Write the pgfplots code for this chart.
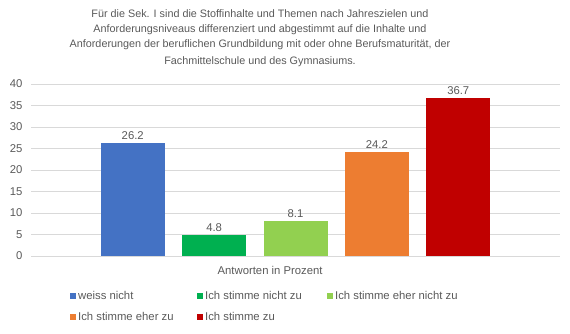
\documentclass[border=0pt]{standalone}
\usepackage{fontspec}
\setmainfont{Liberation Sans}
\usepackage{pgfplots}
\pgfplotsset{compat=1.18}
\definecolor{c1}{HTML}{4472C4}
\definecolor{c2}{HTML}{00B050}
\definecolor{c3}{HTML}{92D050}
\definecolor{c4}{HTML}{ED7D31}
\definecolor{c5}{HTML}{C00000}
\definecolor{txt}{HTML}{595959}
\definecolor{gridc}{HTML}{D9D9D9}
\begin{document}
\begin{tikzpicture}
\path[use as bounding box] (0pt,0pt) rectangle (570pt,333pt);
\node[align=center, text=txt, font=\fontsize{10.8}{15}\selectfont] at (260pt,295pt)
 {Für die Sek. I sind die Stoffinhalte und Themen nach Jahreszielen und\\
  Anforderungsniveaus differenziert und abgestimmt auf die Inhalte und\\
  Anforderungen der beruflichen Grundbildung mit oder ohne Berufsmaturität, der\\[1.5pt]
  Fachmittelschule und des Gymnasiums.};
\begin{axis}[
  at={(31pt,77pt)}, anchor=south west,
  scale only axis, width=529pt, height=172pt,
  xmin=0, xmax=6.5, ymin=0, ymax=40,
  ytick={0,5,...,40}, xtick=\empty,
  axis line style={draw=none},
  ymajorgrids, grid style={draw=gridc, line width=0.8pt},
  major tick length=0pt,
  /pgf/number format/assume math mode=true,
  yticklabel style={text=txt, font=\fontsize{11.3}{13}\selectfont, xshift=-5pt},
  ybar, bar width=64pt,
  nodes near coords,
  nodes near coords style={text=txt, font=\fontsize{11.3}{13}\selectfont,
    /pgf/number format/.cd, fixed, fixed zerofill, precision=1},
  xlabel={Antworten in Prozent},
  xlabel style={at={(axis description cs:0.452,-0.082)}, anchor=center, text=txt, font=\fontsize{11.3}{13}\selectfont},
  legend columns=3,
  legend style={draw=none, fill=none, at={(axis description cs:0.068,-0.178)}, anchor=north west,
    font=\fontsize{11.3}{13}\selectfont, text=txt, row sep=8pt},
  legend image code/.code={\fill[#1] (0pt,-3pt) rectangle (6pt,3pt);},
]
\addplot[bar shift=0pt, fill=c1, draw=none] coordinates {(1.25,26.2)};
\addlegendentry{\makebox[117pt][l]{weiss nicht}}
\addplot[bar shift=0pt, fill=c2, draw=none] coordinates {(2.25,4.8)};
\addlegendentry{\makebox[120pt][l]{Ich stimme nicht zu}}
\addplot[bar shift=0pt, fill=c3, draw=none] coordinates {(3.25,8.1)};
\addlegendentry{\makebox[120pt][l]{Ich stimme eher nicht zu}}
\addplot[bar shift=0pt, fill=c4, draw=none] coordinates {(4.25,24.2)};
\addlegendentry{\makebox[117pt][l]{Ich stimme eher zu}}
\addplot[bar shift=0pt, fill=c5, draw=none] coordinates {(5.25,36.7)};
\addlegendentry{\makebox[120pt][l]{Ich stimme zu}}
\end{axis}
\end{tikzpicture}
\end{document}
